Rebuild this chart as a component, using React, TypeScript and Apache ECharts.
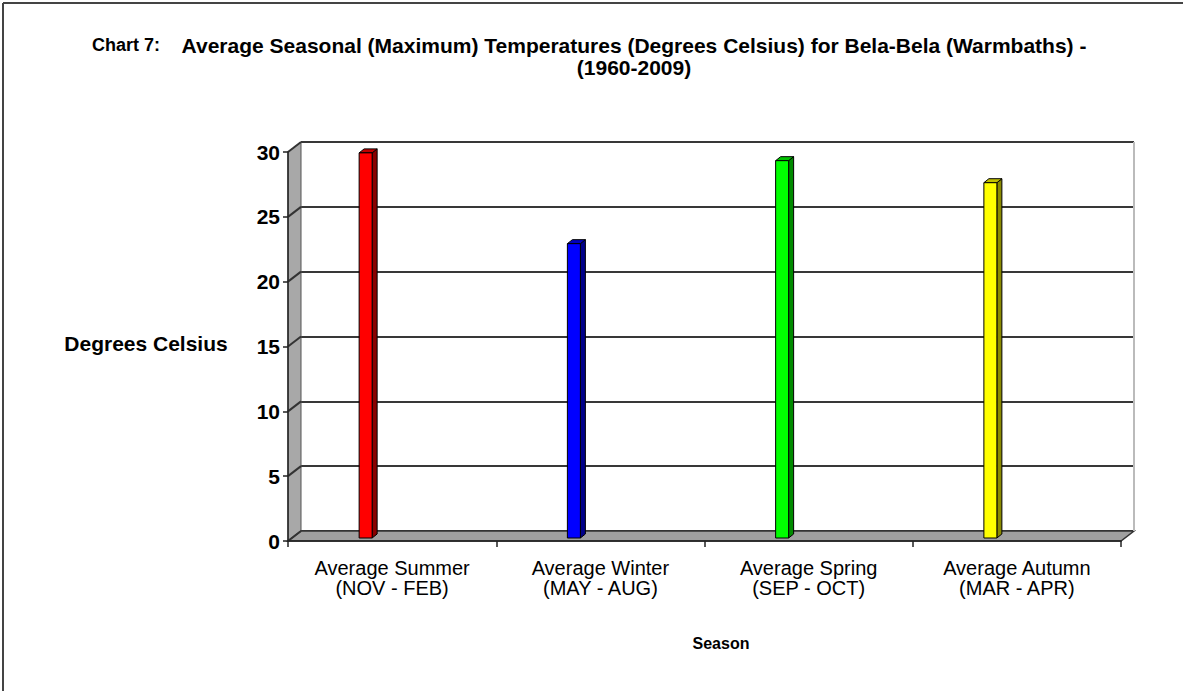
import React, { useEffect, useRef } from "react";
import * as echarts from "echarts";

const categories = [
  "Average Summer\n(NOV - FEB)",
  "Average Winter\n(MAY - AUG)",
  "Average Spring\n(SEP - OCT)",
  "Average Autumn\n(MAR - APR)",
];
const values = [29.7, 22.7, 29.1, 27.4];
const yTicks = [0, 5, 10, 15, 20, 25, 30];
const frontColors = ["#FF0000", "#0000FF", "#00FF00", "#FFFF00"];
const sideColors = ["#8A0000", "#00008A", "#008A00", "#8A8A00"];
const topColors = ["#C00000", "#0000C0", "#00C000", "#C0C000"];

const chartTitle = "Chart 7:";
const titleLine1 =
  "Average Seasonal (Maximum) Temperatures (Degrees Celsius) for Bela-Bela (Warmbaths) -";
const titleLine2 = "(1960-2009)";
const yName = "Degrees Celsius";
const xName = "Season";

const FONT = "'Liberation Sans', Arial, Helvetica, sans-serif";
const DX = 13;
const DY = -10;

export default function App() {
  const ref = useRef<HTMLDivElement>(null);
  useEffect(() => {
    if (!ref.current) return;
    const chart = echarts.init(ref.current, null, { renderer: "svg" });
    const option: any = {
      animation: false,
      backgroundColor: "#FFFFFF",
      grid: [
        { left: 288, top: 152, width: 833, height: 389 },
        { left: 288 + DX, top: 152 + DY, width: 833, height: 389 },
      ],
      xAxis: [
        {
          type: "category",
          gridIndex: 0,
          data: categories,
          z: 10,
          axisLine: { show: true, lineStyle: { color: "#222", width: 1.5 } },
          axisTick: { show: true, length: 6, lineStyle: { color: "#222", width: 1.5 } },
          axisLabel: {
            margin: 17,
            fontFamily: FONT,
            fontSize: 20,
            lineHeight: 20,
            color: "#000",
          },
          splitLine: { show: false },
        },
        {
          type: "category",
          gridIndex: 1,
          data: categories,
          show: false,
        },
      ],
      yAxis: [
        {
          type: "value",
          gridIndex: 0,
          min: 0,
          max: 30,
          interval: 5,
          z: 10,
          axisLine: { show: true, lineStyle: { color: "#222", width: 1.5 } },
          axisTick: { show: true, length: 5, lineStyle: { color: "#222", width: 1.5 } },
          axisLabel: {
            margin: 8,
            fontFamily: FONT,
            fontSize: 21,
            fontWeight: "bold",
            color: "#000",
          },
          splitLine: { show: false },
        },
        {
          type: "value",
          gridIndex: 1,
          min: 0,
          max: 30,
          interval: 5,
          axisLine: { show: false },
          axisTick: { show: false },
          axisLabel: { show: false },
          splitLine: { show: true, lineStyle: { color: "#383838", width: 2 } },
        },
      ],
      series: [
        {
          type: "custom",
          name: "walls",
          xAxisIndex: 0,
          yAxisIndex: 0,
          clip: false,
          z: 1,
          silent: true,
          data: [[0, 0]],
          renderItem: (params: any, api: any) => {
            const cs = params.coordSys;
            const x0 = cs.x;
            const x1 = cs.x + cs.width;
            const yt = cs.y;
            const yb = cs.y + cs.height;
            const children: any[] = [
              {
                type: "polygon",
                shape: { points: [[x0, yt], [x0 + DX, yt + DY], [x0 + DX, yb + DY], [x0, yb]] },
                style: { fill: "#A8A8A8", stroke: "#555", lineWidth: 1 },
              },
              {
                type: "polygon",
                shape: { points: [[x0, yb], [x0 + DX, yb + DY], [x1 + DX, yb + DY], [x1, yb]] },
                style: { fill: "#A0A0A0", stroke: "#333", lineWidth: 1.5 },
              },
              {
                type: "line",
                shape: { x1: x1 + DX, y1: yt + DY, x2: x1 + DX, y2: yb + DY },
                style: { stroke: "#BBBBBB", lineWidth: 2 },
              },
            ];
            yTicks.forEach((t) => {
              const y = api.coord([0, t])[1];
              children.push({
                type: "line",
                shape: { x1: x0, y1: y, x2: x0 + DX, y2: y + DY },
                style: { stroke: "#333", lineWidth: 2 },
              });
            });
            return { type: "group", children };
          },
        },
        {
          type: "custom",
          name: "Temperature",
          xAxisIndex: 0,
          yAxisIndex: 0,
          clip: false,
          z: 5,
          data: values.map((v, i) => [i, v]),
          renderItem: (params: any, api: any) => {
            const i = api.value(0);
            const v = api.value(1);
            const top = api.coord([i, v]);
            const base = api.coord([i, 0]);
            const fw = 13;
            const sw = 5;
            const sd = 4;
            const off = -26.5;
            const lift = 3;
            const l = top[0] + off - fw / 2;
            const r = l + fw;
            const yt = top[1] - lift;
            const yb = base[1] - lift;
            return {
              type: "group",
              children: [
                {
                  type: "polygon",
                  shape: { points: [[r, yt], [r + sw, yt - sd], [r + sw, yb - sd], [r, yb]] },
                  style: { fill: sideColors[i], stroke: "#000", lineWidth: 1 },
                },
                {
                  type: "polygon",
                  shape: { points: [[l, yt], [l + sw, yt - sd], [r + sw, yt - sd], [r, yt]] },
                  style: { fill: topColors[i], stroke: "#000", lineWidth: 1 },
                },
                {
                  type: "rect",
                  shape: { x: l, y: yt, width: fw, height: yb - yt },
                  style: { fill: frontColors[i], stroke: "#000", lineWidth: 1 },
                },
              ],
            };
          },
        },
      ],
      graphic: [
        {
          type: "line",
          z: -1,
          shape: { x1: 3, y1: 3, x2: 1183, y2: 3 },
          style: { stroke: "#444", lineWidth: 2 },
        },
        {
          type: "line",
          z: -1,
          shape: { x1: 3, y1: 3, x2: 3, y2: 691 },
          style: { stroke: "#444", lineWidth: 2 },
        },
        {
          type: "text",
          x: 92,
          y: 45,
          style: {
            text: chartTitle,
            fontFamily: FONT,
            fontSize: 18,
            fontWeight: "bold",
            fill: "#000",
            verticalAlign: "middle",
            align: "left",
          },
        },
        {
          type: "text",
          x: 634,
          y: 45,
          style: {
            text: titleLine1,
            fontFamily: FONT,
            fontSize: 21,
            fontWeight: "bold",
            fill: "#000",
            verticalAlign: "middle",
            align: "center",
          },
        },
        {
          type: "text",
          x: 634,
          y: 67,
          style: {
            text: titleLine2,
            fontFamily: FONT,
            fontSize: 21,
            fontWeight: "bold",
            fill: "#000",
            verticalAlign: "middle",
            align: "center",
          },
        },
        {
          type: "text",
          x: 146,
          y: 343,
          style: {
            text: yName,
            fontFamily: FONT,
            fontSize: 21,
            fontWeight: "bold",
            fill: "#000",
            verticalAlign: "middle",
            align: "center",
          },
        },
        {
          type: "text",
          x: 721,
          y: 643,
          style: {
            text: xName,
            fontFamily: FONT,
            fontSize: 16,
            fontWeight: "bold",
            fill: "#000",
            verticalAlign: "middle",
            align: "center",
          },
        },
      ],
    };
    chart.setOption(option);
    return () => chart.dispose();
  }, []);
  return (
    <div
      ref={ref}
      style={{ position: "fixed", left: 0, top: 0, width: 1183, height: 691 }}
    />
  );
}
